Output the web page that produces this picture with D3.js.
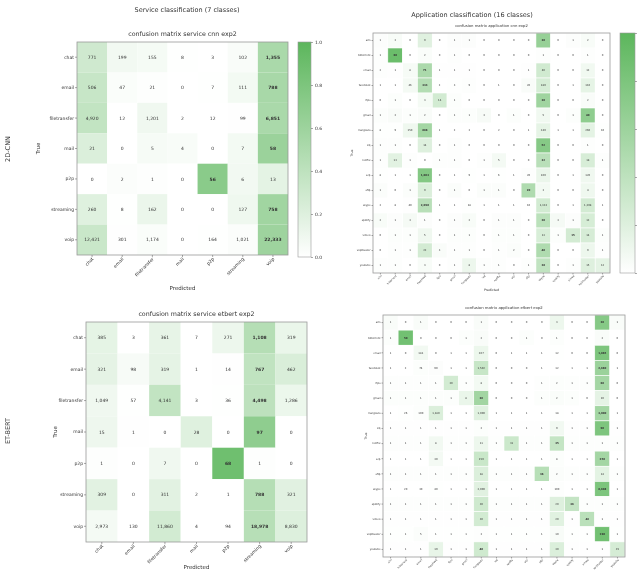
<!DOCTYPE html>
<html>
<head>
<meta charset="utf-8">
<script src="https://cdn.jsdelivr.net/npm/d3@7"></script>
<style>
body { margin: 0; background: #fff; }
svg { will-change: transform; transform: translateZ(0); }
text { font-family: "DejaVu Sans", sans-serif; fill: #333; text-rendering: geometricPrecision; -webkit-font-smoothing: antialiased; }
</style>
</head>
<body>
<svg id="fig" width="637" height="570"></svg>
<script>
// classes
const serviceLabels = ['chat', 'email', 'filetransfer', 'mail', 'p2p', 'streaming', 'voip'];
const appLabels = ['aim', 'bittorrent', 'email', 'facebook', 'ftps', 'gmail', 'hangouts', 'icq',
    'netflix', 'scp', 'sftp', 'skype', 'spotify', 'vimeo', 'voipbuster', 'youtube'];

// rows = true, cols = predicted
const serviceCnn = [
    [771, 199, 155, 8, 3, 102, 1355],
    [506, 47, 21, 0, 7, 111, 788],
    [4920, 12, 1201, 2, 12, 99, 6851],
    [21, 0, 5, 4, 0, 7, 58],
    [0, 2, 1, 0, 56, 6, 13],
    [260, 8, 162, 0, 0, 127, 758],
    [12421, 301, 1174, 0, 164, 1021, 22333]
];
const serviceBert = [
    [385, 3, 361, 7, 271, 1108, 319],
    [321, 98, 319, 1, 14, 767, 462],
    [1049, 57, 4141, 3, 36, 4498, 1286],
    [15, 1, 0, 28, 0, 97, 0],
    [1, 0, 7, 0, 68, 1, 0],
    [309, 0, 311, 2, 1, 788, 321],
    [2973, 130, 11860, 4, 94, 18978, 8830]
];
const appCnn = [
    [1, 2, 0, 9, 0, 1, 1, 0, 0, 0, 0, 30, 0, 1, 2, 0],
    [1, 60, 0, 2, 0, 1, 0, 0, 0, 0, 0, 1, 0, 0, 1, 0],
    [2, 1, 8, 71, 1, 1, 1, 0, 0, 0, 1, 40, 0, 0, 12, 0],
    [1, 1, 46, 333, 2, 3, 9, 0, 1, 0, 26, 180, 0, 1, 110, 0],
    [0, 1, 0, 3, 14, 1, 0, 0, 0, 0, 0, 30, 0, 0, 2, 0],
    [1, 2, 1, 2, 0, 1, 1, 3, 0, 1, 0, 5, 0, 1, 40, 0],
    [8, 9, 150, 888, 1, 2, 3, 0, 2, 0, 1, 240, 1, 1, 260, 10],
    [1, 1, 0, 14, 0, 1, 0, 0, 0, 0, 0, 52, 0, 0, 1, 0],
    [1, 13, 1, 0, 1, 1, 0, 1, 5, 0, 0, 32, 0, 0, 18, 1],
    [8, 1, 1, 1003, 0, 1, 9, 1, 6, 1, 20, 160, 0, 1, 120, 0],
    [1, 0, 1, 9, 0, 1, 0, 1, 1, 0, 20, 3, 0, 0, 4, 0],
    [2, 8, 40, 2090, 1, 1, 18, 1, 1, 1, 10, 1333, 0, 1, 1308, 1],
    [2, 1, 3, 1, 0, 1, 2, 0, 1, 1, 0, 20, 3, 1, 12, 0],
    [0, 1, 1, 5, 0, 1, 1, 0, 1, 1, 0, 13, 1, 15, 14, 1],
    [0, 1, 1, 22, 3, 1, 1, 0, 1, 2, 0, 40, 0, 0, 9, 1],
    [1, 1, 0, 3, 0, 1, 8, 1, 1, 0, 1, 28, 0, 1, 15, 12]
];
const appBert = [
    [1, 0, 1, 0, 0, 0, 1, 0, 0, 0, 0, 3, 0, 0, 20, 1],
    [1, 50, 0, 0, 0, 1, 2, 0, 0, 1, 0, 1, 0, 0, 2, 0],
    [1, 0, 181, 0, 1, 1, 267, 0, 1, 1, 1, 12, 0, 0, 1865, 0],
    [1, 2, 74, 90, 1, 1, 1502, 0, 0, 0, 1, 12, 1, 1, 2680, 1],
    [1, 1, 1, 1, 30, 1, 8, 0, 0, 0, 1, 2, 1, 1, 60, 0],
    [1, 1, 1, 1, 1, 8, 36, 0, 0, 0, 1, 2, 1, 0, 10, 0],
    [1, 26, 100, 1180, 1, 1, 1000, 1, 1, 1, 1, 18, 1, 1, 3000, 1],
    [1, 1, 1, 1, 1, 1, 2, 1, 1, 1, 1, 9, 1, 1, 90, 1],
    [1, 1, 1, 8, 1, 1, 11, 1, 31, 1, 1, 35, 1, 1, 1, 1],
    [1, 1, 1, 30, 1, 1, 150, 1, 1, 1, 1, 8, 1, 1, 250, 1],
    [1, 1, 1, 1, 1, 1, 18, 1, 1, 1, 36, 2, 1, 1, 14, 1],
    [1, 20, 30, 40, 1, 1, 2000, 1, 1, 1, 1, 100, 1, 1, 8608, 1],
    [1, 1, 1, 1, 1, 1, 30, 1, 1, 1, 1, 20, 36, 1, 1, 1],
    [1, 1, 1, 1, 1, 1, 30, 1, 1, 1, 1, 20, 1, 46, 1, 1],
    [1, 1, 5, 1, 1, 1, 3, 1, 1, 1, 1, 10, 1, 1, 190, 1],
    [1, 1, 1, 19, 1, 1, 40, 1, 1, 1, 1, 30, 1, 1, 1, 35]
];
const cbarTicks = [0, 0.2, 0.4, 0.6, 0.8, 1.0];

const svg = d3.select('#fig');
const color = d3.scaleLinear().domain([0, 1]).range(['#ffffff', '#5cb65c']);
const fmt = d3.format(',');

// gradient for colorbars
const grad = svg.append('defs').append('linearGradient')
    .attr('id', 'cbar').attr('x1', 0).attr('y1', 1).attr('x2', 0).attr('y2', 0);
grad.selectAll('stop').data(cbarTicks).join('stop')
    .attr('offset', d => d)
    .attr('stop-color', d => color(d));

function text(x, y, s, size, opts) {
    opts = opts || {};
    return svg.append('text')
        .attr('x', x).attr('y', y)
        .attr('font-size', size)
        .attr('text-anchor', opts.anchor || 'middle')
        .attr('transform', opts.rot ? 'rotate(-90,' + x + ',' + y + ')' : null)
        .text(s);
}

function drawMatrix(o) {
    const g = svg.append('g');
    const x = d3.scaleBand().domain(o.labels).range([o.x0, o.x1]);
    const y = d3.scaleBand().domain(o.labels).range([o.y0, o.y1]);

    // row-normalised for colour
    const cells = [];
    o.values.forEach((row, i) => {
        const s = d3.sum(row), mx = d3.max(row);
        row.forEach((v, j) => cells.push({ r: o.labels[i], c: o.labels[j], v: v, p: v / s, top: v === mx }));
    });

    g.selectAll('rect.cell').data(cells).join('rect')
        .attr('class', 'cell')
        .attr('x', d => x(d.c))
        .attr('y', d => y(d.r))
        .attr('width', x.bandwidth())
        .attr('height', y.bandwidth())
        .attr('fill', d => color(d.p))
        .attr('stroke', o.gap ? '#fff' : 'none')
        .attr('stroke-width', o.gap || 0);

    g.selectAll('text.val').data(cells).join('text')
        .attr('class', 'val')
        .attr('x', d => x(d.c) + x.bandwidth() / 2)
        .attr('y', d => y(d.r) + y.bandwidth() / 2)
        .attr('dy', '0.35em')
        .attr('text-anchor', 'middle')
        .attr('font-size', o.fs)
        .attr('font-weight', d => d.top ? 'bold' : 'normal')
        .text(d => fmt(d.v));

    // frame
    g.append('rect')
        .attr('x', o.x0).attr('y', o.y0)
        .attr('width', o.x1 - o.x0).attr('height', o.y1 - o.y0)
        .attr('fill', 'none').attr('stroke', '#999').attr('stroke-width', 0.8);

    const ya = g.append('g')
        .attr('transform', 'translate(' + o.x0 + ',0)')
        .call(d3.axisLeft(y).tickSize(o.tick).tickPadding(1));
    const xa = g.append('g')
        .attr('transform', 'translate(0,' + o.y1 + ')')
        .call(d3.axisBottom(x).tickSize(o.tick).tickPadding(1));
    [xa, ya].forEach(a => {
        a.select('.domain').remove();
        a.attr('font-size', o.fs).attr('font-family', null);
        a.selectAll('line').attr('stroke', '#555').attr('stroke-width', 0.5);
        a.selectAll('text').attr('fill', '#333');
    });
    xa.selectAll('text')
        .attr('text-anchor', 'end')
        .attr('dx', '-0.4em')
        .attr('dy', '0.3em')
        .attr('transform', 'rotate(-45)');

    text((o.x0 + o.x1) / 2, o.y0 - 6, o.title, o.tfs);
    text((o.x0 + o.x1) / 2, o.predY, 'Predicted', o.lfs);
    text(o.trueX, (o.y0 + o.y1) / 2, 'True', o.lfs, { rot: true });

    if (o.cbar) {
        const c = o.cbar;
        svg.append('rect')
            .attr('x', c.x).attr('y', o.y0).attr('width', c.w).attr('height', c.y1 - o.y0)
            .attr('fill', 'url(#cbar)').attr('stroke', '#999').attr('stroke-width', 0.6);
        const cs = d3.scaleLinear().domain([0, 1]).range([c.y1, o.y0]);
        const ca = svg.append('g')
            .attr('transform', 'translate(' + (c.x + c.w) + ',0)')
            .call(d3.axisRight(cs).tickValues(cbarTicks)
                .tickFormat(c.labels ? d3.format('.1f') : '').tickSize(2).tickPadding(2));
        ca.select('.domain').remove();
        ca.attr('font-size', o.fs).attr('font-family', null);
        ca.selectAll('line').attr('stroke', '#555').attr('stroke-width', 0.5);
        ca.selectAll('text').attr('fill', '#333');
    }
}

// figure titles and row names
text(187, 12, 'Service classification  (7 classes)', 6.5);
text(472, 17, 'Application classification  (16 classes)', 6.5);
text(10, 149, '2D-CNN', 6.5, { rot: true });
text(10, 431, 'ET-BERT', 6.5, { rot: true });

drawMatrix({
    labels: serviceLabels, values: serviceCnn,
    x0: 77, x1: 288, y0: 42, y1: 255,
    fs: 4.5, tfs: 6.3, lfs: 5.5, tick: 2,
    title: 'confusion matrix service cnn exp2',
    predY: 290, trueX: 40,
    cbar: { x: 298, w: 13, y1: 257, labels: true }
});

drawMatrix({
    labels: serviceLabels, values: serviceBert,
    x0: 86, x1: 307, y0: 322, y1: 542,
    fs: 4.5, tfs: 6.3, lfs: 5.5, tick: 2,
    title: 'confusion matrix service etbert exp2',
    predY: 569, trueX: 57
});

// colorbar of this one runs off the right edge, its labels are not visible
drawMatrix({
    labels: appLabels, values: appCnn,
    x0: 373, x1: 610, y0: 33, y1: 273,
    fs: 2.6, tfs: 3.8, lfs: 3.2, tick: 1.5, gap: 0.6,
    title: 'confusion matrix application cnn exp2',
    predY: 291, trueX: 353,
    cbar: { x: 620, w: 15, y1: 273, labels: false }
});

drawMatrix({
    labels: appLabels, values: appBert,
    x0: 383, x1: 625, y0: 315, y1: 557,
    fs: 2.6, tfs: 3.8, lfs: 3.2, tick: 1.5, gap: 0.6,
    title: 'confusion matrix application etbert exp2',
    predY: 575, trueX: 367
});
</script>
</body>
</html>
